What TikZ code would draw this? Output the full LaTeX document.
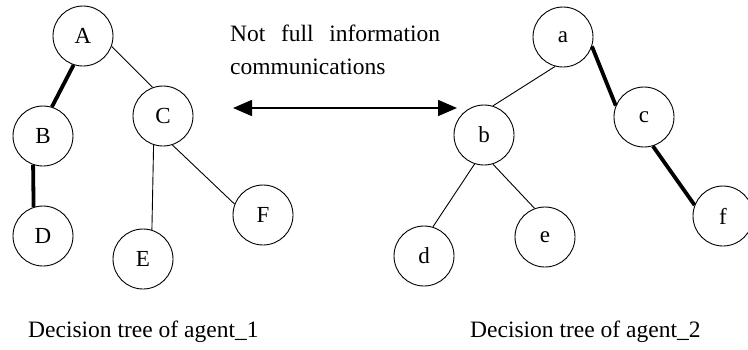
\documentclass[tikz,border=0pt]{standalone}
\usepackage{fontspec}
\setmainfont{Liberation Serif}
\usetikzlibrary{arrows.meta}
\begin{document}
\begin{tikzpicture}[x=1pt,y=-1pt,
  tnode/.style={circle,draw,line width=0.9pt,minimum size=60pt,inner sep=0pt,font=\fontsize{23}{26}\selectfont},
  thin edge/.style={line width=0.9pt},
  thick edge/.style={line width=3.8pt},
  lbl/.style={font=\fontsize{23.5}{33}\selectfont,inner sep=0pt,anchor=base west}]
\useasboundingbox (0,0) rectangle (748,349);
% agent 1
\node[tnode] (A) at (83,36) {A};
\node[tnode] (B) at (43,136) {B};
\node[tnode] (C) at (163,116) {C};
\node[tnode] (D) at (43,236) {D};
\node[tnode] (E) at (143,259) {E};
\node[tnode] (F) at (263,215) {F};
\draw[thick edge] (A.252) -- (B.73);
\draw[thin edge] (A.-20) -- (C.110);
\draw[thick edge] (B.251) -- (D.108);
\draw[thin edge] (C.252) -- (E.73);
\draw[thin edge] (C.288) -- (F.159);
% agent 2
\node[tnode] (a) at (563,37) {a};
\node[tnode] (b) at (484,135) {b};
\node[tnode] (c) at (644,117) {c};
\node[tnode] (d) at (424,256) {d};
\node[tnode] (e) at (545,237) {e};
\node[tnode] (f) at (723,216) {f};
\draw[thin edge] (a.255) -- (b.73);
\draw[thick edge] (a.-18) -- (c.158);
\draw[thin edge] (b.252) -- (d.73);
\draw[thin edge] (b.287) -- (e.110);
\draw[thick edge] (c.287) -- (f.159);
% communication
\node[lbl] (t1) at (230,41) {\makebox[210pt][s]{Not\hfill full\hfill information}};
\node[lbl] (t2) at (230,74) {communications};
\coordinate (L) at (233,108);
\coordinate (R) at (457,108);
\draw[line width=1.6pt,{Triangle[length=19pt,width=16pt]}-{Triangle[length=19pt,width=16pt]}] (L) -- (R);
% captions
\node[lbl] (cap1) at (28,337) {Decision tree of agent\_1};
\node[lbl] (cap2) at (470,337) {Decision tree of agent\_2};
\end{tikzpicture}
\end{document}
